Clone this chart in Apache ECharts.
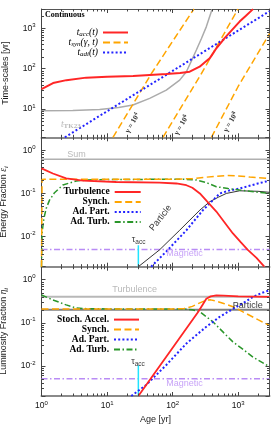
<!DOCTYPE html>
<html><head><meta charset="utf-8">
<script src="https://cdn.jsdelivr.net/npm/echarts@6/dist/echarts.min.js"></script>
<style>html,body{margin:0;padding:0;background:#fff}#c{width:275px;height:440px}</style>
</head><body><div id="c"></div>
<script>
// ---------- axis ranges ----------
const xRange = [1, 3000];
const yTimeRange = [2, 3000];
const yFracRange = [0.002, 2];

// ---------- top panel: time-scales [yr] ----------
const tAcc = [[1,31],[1.5,44],[2.4,52],[4.8,60],[10,63],[25,66],[80,74],[130,78],[182,84],[258,112],[320,150],[367,180],[420,250],[464,320],[540,430],[620,568],[800,900],[1050,1466],[1300,2020],[1680,2980]];
const tAdi = [[2.27,2],[3000,2640]];
const tTK23 = [[1,9.1],[3,9.2],[7.7,9.8],[15,11],[24.8,12.6],[44.6,18.4],[80,29.5],[128,52],[162,84],[195,160],[230,290],[275,560],[327,1100],[365,1900],[400,2950]];
const tSynG4 = [[12.3,2],[48.6,80.5],[211,3000]];
const tSynG6 = [[71.1,2],[267,69.8],[993,3000]];
const tSynG8 = [[390,2],[993,35.7],[3000,735]];

// ---------- middle panel: energy fraction ----------
const eSum = [[1,0.62],[3000,0.62]];
const eTurb = [[1,0.38],[1.49,0.29],[2.38,0.224],[4.27,0.197],[13.8,0.184],[63,0.177],[114,0.17],[162,0.155],[200,0.135],[260,0.1],[330,0.067],[464,0.038],[600,0.0227],[830,0.0118],[1100,0.0073],[1400,0.0049],[1900,0.0032],[2500,0.002]];
const eSyn = [[1,0.002],[1.02,0.21],[1.1,0.212],[10,0.212],[100,0.213],[200,0.22],[300,0.235],[450,0.25],[660,0.26],[1000,0.255],[1500,0.24],[3000,0.22]];
const eAdTurb = [[1,0.002],[1.02,0.012],[1.085,0.026],[1.18,0.045],[1.325,0.07],[1.58,0.104],[2.12,0.157],[3.39,0.194],[5,0.205],[10,0.21],[50,0.212],[150,0.212],[230,0.205],[330,0.177],[464,0.143],[700,0.13],[1050,0.12],[1500,0.112],[3000,0.1]];
const eAdPart = [[47,0.002],[80,0.0045],[162,0.014],[290,0.041],[524,0.1],[750,0.118],[1050,0.13],[2000,0.17],[3000,0.197]];
const ePart = [[30,0.002],[63,0.0049],[128,0.014],[260,0.041],[367,0.064],[500,0.082],[660,0.1],[1050,0.115],[2000,0.112],[3000,0.106]];
const eMag = [[1,0.005],[3000,0.005]];
const eTau = [[30,0.002],[30,0.0063]];

// ---------- bottom panel: luminosity fraction ----------
const lTurb = [[1,0.4],[3000,0.4]];
const lPart = [[1,0.2],[3000,0.2]];
const lAcc = [[30,0.002],[243,0.175],[290,0.27],[326,0.36],[380,0.41],[464,0.43],[600,0.425],[1000,0.41],[3000,0.40]];
const lSyn = [[1,0.21],[100,0.21],[150,0.215],[200,0.24],[260,0.29],[326,0.335],[380,0.34],[450,0.32],[600,0.28],[830,0.236],[1200,0.177],[2000,0.118],[3000,0.086]];
const lAdPart = [[23.4,0.002],[39.4,0.0036],[80,0.0105],[162,0.033],[326,0.081],[524,0.138],[830,0.21],[1300,0.31],[1680,0.4],[2200,0.48],[3000,0.57]];
const lAdTurb = [[1,0.44],[1.49,0.34],[2.38,0.26],[3.4,0.22],[5,0.212],[10,0.21],[150,0.21],[200,0.2],[260,0.18],[410,0.106],[600,0.059],[830,0.036],[1200,0.0238],[1680,0.016],[3000,0.0096]];
const lMag = [[1,0.005],[3000,0.005]];
const lTau = [[30,0.002],[30,0.0103]];

// ---------- text labels ----------
const legendText = {
  tacc: '{t|t}{sb|acc}{t|(t)}', tsyn: '{t|t}{sb|syn}{t|(γ, t)}', tadi: '{t|t}{sb|adi}{t|(t)}',
  mTurb: 'Turbulence', mSyn: 'Synch.', mAdPart: 'Ad. Part.', mAdTurb: 'Ad. Turb.',
  bAcc: 'Stoch. Accel.', bSyn: 'Synch.', bAdPart: 'Ad. Part.', bAdTurb: 'Ad. Turb.'
};
const yNames = ['Time-scales [yr]', 'Energy Fraction {g|ε}{i|i}', 'Luminosity Fraction {g|η}{i|i}'];
const notesTop = [
  {x:2.8, y:4.25, t:'{it|t}{sbb|TK23}', c:'#a8a8a8'},
  {x:24.5, y:4.5, t:'{gb|γ = 10}{gs|4}', c:'#000', r:60},
  {x:137, y:4.0, t:'{gb|γ = 10}{gs|6}', c:'#000', r:60},
  {x:768, y:4.75, t:'{gb|γ = 10}{gs|8}', c:'#000', r:60}
];
const notesMid = [
  {x:3.42, y:0.78, t:'{s|Sum}', c:'#a8a8a8'},
  {x:152, y:0.0041, t:'{s|Magnetic}', c:'#b98cf5'},
  {x:30.3, y:0.0085, t:'{s|τ}{ss|acc}', c:'#000'},
  {x:65.6, y:0.027, t:'{s|Particle}', c:'#000', r:52}
];
const notesBot = [
  {x:26.3, y:0.58, t:'{s|Turbulence}', c:'#a8a8a8'},
  {x:1396, y:0.25, t:'{s|Particle}', c:'#000'},
  {x:152, y:0.004, t:'{s|Magnetic}', c:'#b98cf5'},
  {x:29.6, y:0.0128, t:'{s|τ}{ss|acc}', c:'#000'}
];

// ---------- helpers ----------
const SANS = 'Liberation Sans', SERIF = 'Liberation Serif';
const C = {red:'#ff2626', orange:'#ffa500', blue:'#2323ff', green:'#2a962a', gray:'#ababab', purple:'#b98cf5', cyan:'#20e4ff'};
const DASH = [7,3.5], DOT = [2,2.2], DASHDOT = [6,2.5,1.5,2.5];

function pow10(v) {
  const e = Math.log10(v), r = Math.round(e);
  if (Math.abs(e - r) > 1e-6) return '';
  return '{b|10}{s|' + r + '}';
}
const TICKRICH = {b:{fontFamily:SANS, fontSize:8.5, lineHeight:12}, s:{fontFamily:SANS, fontSize:6, verticalAlign:'top', lineHeight:6}};
const NOTERICH = {
  s:{fontFamily:SANS, fontSize:9, lineHeight:12},
  ss:{fontFamily:SANS, fontSize:6.5, verticalAlign:'bottom', lineHeight:6},
  it:{fontFamily:SERIF, fontStyle:'italic', fontSize:9.5, lineHeight:12},
  sbb:{fontFamily:SERIF, fontWeight:'bold', fontSize:7, verticalAlign:'bottom', lineHeight:6},
  gb:{fontFamily:SERIF, fontWeight:'bold', fontSize:7.5, lineHeight:10},
  gs:{fontFamily:SERIF, fontWeight:'bold', fontSize:5.5, verticalAlign:'top', lineHeight:5}
};

function line(name, data, gi, color, width, type, z) {
  return {type:'line', name, data, xAxisIndex:gi, yAxisIndex:gi, symbol:'none', showSymbol:false,
    lineStyle:{color, width, type}, itemStyle:{color}, silent:true, animation:false, z:z||3};
}
function notes(gi, items) {
  return {type:'scatter', xAxisIndex:gi, yAxisIndex:gi, symbolSize:0, silent:true, animation:false, z:10,
    label:{show:true, position:'inside', rich:NOTERICH},
    data: items.map(it => ({value:[it.x, it.y], label:{formatter:it.t, color:it.c, rotate:it.r||0}}))};
}
function decadeMinors(lo, hi) {
  const out = [];
  for (let e = Math.floor(Math.log10(lo)); e <= Math.ceil(Math.log10(hi)); e++) {
    for (let k = 2; k <= 9; k++) { const v = k * Math.pow(10, e); if (v > lo * 1.0001 && v < hi * 0.9999) out.push(v); }
  }
  return out;
}
function minorTicks(gi, xr, yr) {
  const xs = decadeMinors(xr[0], xr[1]).map(v => [v, yr[0], 0]);
  const ys = decadeMinors(yr[0], yr[1]).map(v => [xr[0], v, 1]);
  return {type:'custom', xAxisIndex:gi, yAxisIndex:gi, silent:true, animation:false, z:5, clip:false,
    data: xs.concat(ys),
    renderItem: (p, api) => {
      const st = {stroke:'#444', lineWidth:1};
      if (api.value(2) === 0) {
        const a = api.coord([api.value(0), yr[0]]), b = api.coord([api.value(0), yr[1]]);
        const x = Math.round(a[0]) + 0.5;
        return {type:'group', children:[
          {type:'line', shape:{x1:x, y1:a[1], x2:x, y2:a[1]-2.5}, style:st},
          {type:'line', shape:{x1:x, y1:b[1], x2:x, y2:b[1]+2.5}, style:st}]};
      } else {
        const a = api.coord([xr[0], api.value(1)]), b = api.coord([xr[1], api.value(1)]);
        const y = Math.round(a[1]) + 0.5;
        return {type:'group', children:[
          {type:'line', shape:{x1:a[0], y1:y, x2:a[0]+2.5, y2:y}, style:st},
          {type:'line', shape:{x1:b[0], y1:y, x2:b[0]-2.5, y2:y}, style:st}]};
      }
    }};
}

// ---------- layout ----------
const grids = [
  {left:41.5, top:9, width:228, height:128.3},
  {left:41.5, top:137.3, width:228, height:129.4},
  {left:41.5, top:266.7, width:228, height:129.3}
].map(g => Object.assign(g, {containLabel:false, outerBoundsMode:'none'}));
const yRanges = [yTimeRange, yFracRange, yFracRange];

const xAxes = [], yAxes = [];
for (let i = 0; i < 3; i++) {
  xAxes.push({type:'log', logBase:10, gridIndex:i, min:xRange[0], max:xRange[1], position:'bottom',
    axisLine:{show:true, onZero:false, lineStyle:{color:'#8a8a8a', width:2}},
    axisTick:{show:true, inside:true, length:4, lineStyle:{color:'#444', width:1}},
    axisLabel:{show:i === 2, formatter:pow10, margin:4, color:'#111', rich:TICKRICH},
    splitLine:{show:false},
    name:i === 2 ? 'Age [yr]' : '', nameLocation:'middle', nameGap:19,
    nameTextStyle:{fontFamily:SANS, fontSize:9, color:'#222'}});
}
for (let i = 0; i < 3; i++) {
  xAxes.push({type:'log', logBase:10, gridIndex:i, min:xRange[0], max:xRange[1], position:'top',
    axisLine:{show:i === 0, onZero:false, lineStyle:{color:'#555', width:1}},
    axisTick:{show:true, inside:true, length:4, lineStyle:{color:'#444', width:1}},
    axisLabel:{show:false}, splitLine:{show:false}});
}
for (let i = 0; i < 3; i++) {
  yAxes.push({type:'log', logBase:10, gridIndex:i, min:yRanges[i][0], max:yRanges[i][1], position:'left',
    axisLine:{show:true, onZero:false, lineStyle:{color:'#444', width:1}},
    axisTick:{show:true, inside:true, length:4, lineStyle:{color:'#444', width:1}},
    axisLabel:{formatter:pow10, margin:6, color:'#111', rich:TICKRICH},
    splitLine:{show:false},
    name:yNames[i], nameLocation:'middle', nameGap:26,
    nameTextStyle:{fontFamily:SANS, fontSize:9, color:'#222', lineHeight:12,
      rich:{g:{fontFamily:SERIF, fontStyle:'italic', fontSize:9.5, lineHeight:12},
            i:{fontFamily:SERIF, fontStyle:'italic', fontSize:6.5, verticalAlign:'bottom', lineHeight:6}}}});
}
for (let i = 0; i < 3; i++) {
  yAxes.push({type:'log', logBase:10, gridIndex:i, min:yRanges[i][0], max:yRanges[i][1], position:'right',
    axisLine:{show:true, onZero:false, lineStyle:{color:'#555', width:1}},
    axisTick:{show:true, inside:true, length:4, lineStyle:{color:'#444', width:1}},
    axisLabel:{show:false}, splitLine:{show:false}});
}

const series = [
  // top
  line('tk23', tTK23, 0, C.gray, 1.5, 'solid'),
  line('tsyn', tSynG4, 0, C.orange, 1.5, DASH),
  line('tsyn', tSynG6, 0, C.orange, 1.5, DASH),
  line('tsyn', tSynG8, 0, C.orange, 1.5, DASH),
  line('tadi', tAdi, 0, C.blue, 2, DOT),
  line('tacc', tAcc, 0, C.red, 2, 'solid'),
  // middle
  line('mSum', eSum, 1, '#b0b0b0', 1.5, 'solid'),
  line('mMag', eMag, 1, C.purple, 1.5, DASHDOT),
  line('mTau', eTau, 1, C.cyan, 1.5, 'solid'),
  line('mPart', ePart, 1, '#000', 0.8, 'solid'),
  line('mAdPart', eAdPart, 1, C.blue, 2, DOT),
  line('mAdTurb', eAdTurb, 1, C.green, 1.5, DASHDOT),
  line('mSyn', eSyn, 1, C.orange, 1.5, DASH),
  line('mTurb', eTurb, 1, C.red, 1.8, 'solid'),
  // bottom
  line('bTurbL', lTurb, 2, '#b8b8b8', 2, 'solid'),
  line('bPartL', lPart, 2, '#808080', 2, 'solid'),
  line('bMag', lMag, 2, C.purple, 1.5, DASHDOT),
  line('bTau', lTau, 2, C.cyan, 1.5, 'solid'),
  line('bAdTurb', lAdTurb, 2, C.green, 1.5, DASHDOT),
  line('bSyn', lSyn, 2, C.orange, 1.5, DASH),
  line('bAdPart', lAdPart, 2, C.blue, 2, DOT),
  line('bAcc', lAcc, 2, C.red, 1.8, 'solid'),
  notes(0, notesTop), notes(1, notesMid), notes(2, notesBot),
  minorTicks(0, xRange, yTimeRange), minorTicks(1, xRange, yFracRange), minorTicks(2, xRange, yFracRange)
];

const legendBase = {orient:'vertical', align:'right', padding:0, itemGap:0, selectedMode:false,
  itemStyle:{opacity:0}, formatter: n => legendText[n]};
const legends = [
  Object.assign({}, legendBase, {data:['tacc','tsyn','tadi'], right:146, top:27.5, itemWidth:25, itemHeight:9.7,
    textStyle:{color:'#000', fontFamily:SERIF, fontSize:9.5, lineHeight:9.7,
      rich:{t:{fontFamily:SERIF, fontStyle:'italic', fontSize:9.5, lineHeight:9.7},
            sb:{fontFamily:SERIF, fontStyle:'italic', fontSize:7, verticalAlign:'bottom', lineHeight:5}}}}),
  Object.assign({}, legendBase, {data:['mTurb','mSyn','mAdPart','mAdTurb'], right:133.3, top:187, itemWidth:26, itemHeight:9.4,
    textStyle:{color:'#000', fontFamily:SERIF, fontWeight:'bold', fontSize:9.5, lineHeight:9.4}}),
  Object.assign({}, legendBase, {data:['bAcc','bSyn','bAdPart','bAdTurb'], right:135, top:314.6, itemWidth:25, itemHeight:9.5,
    textStyle:{color:'#000', fontFamily:SERIF, fontWeight:'bold', fontSize:9.5, lineHeight:9.5}})
];

const chart = echarts.init(document.getElementById('c'), null, {renderer:'canvas', width:275, height:440});
chart.setOption({
  animation:false,
  backgroundColor:'#fff',
  title:{text:'Continuous', left:45, top:11, padding:0,
    textStyle:{fontFamily:SERIF, fontWeight:'bold', fontSize:8, color:'#000'}},
  grid:grids, xAxis:xAxes, yAxis:yAxes, legend:legends, series
});
</script></body></html>
